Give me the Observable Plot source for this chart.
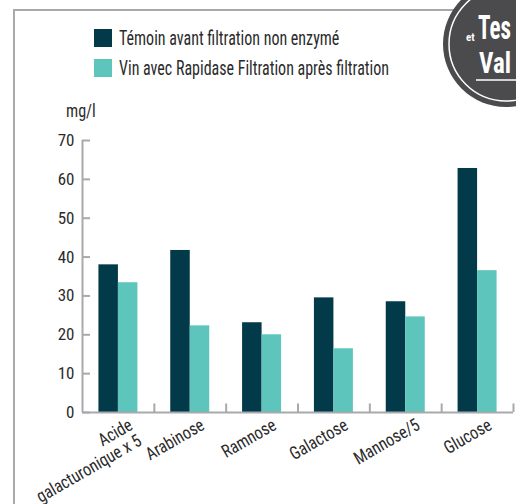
<!DOCTYPE html>
<html><head><meta charset="utf-8">
<script src="https://cdn.jsdelivr.net/npm/d3@7"></script>
<script src="https://cdn.jsdelivr.net/npm/@observablehq/plot@0.6"></script>
<style>
body{margin:0;background:#fff;}
#wrap{position:relative;width:516px;height:504px;overflow:hidden;font-family:"Roboto Condensed",Roboto,sans-serif;font-stretch:condensed;color:#2b2b2b;}
#frame{position:absolute;left:13px;top:9px;width:480px;height:520px;border-left:2px solid #a9a9a9;border-top:2px solid #a9a9a9;}
#chart{position:absolute;left:0;top:0;}
.leg{position:absolute;left:94px;height:18px;display:flex;align-items:center;white-space:nowrap;}
.sw{width:18px;height:18px;flex:none;}
.lt{margin-left:7px;font-size:20px;transform:scaleX(0.8);transform-origin:left center;}
#unit{position:absolute;left:66px;top:99px;font-size:19px;transform:scaleX(0.85);transform-origin:left center;}
#badge{position:absolute;left:436px;top:0;}
</style></head><body>
<div id="wrap">
<div id="frame"></div>
<div id="chart"></div>
<div id="legend"></div>
<div id="unit"></div>
<svg id="badge" width="80" height="120" viewBox="436 0 80 120">
<circle cx="506" cy="44" r="63" fill="#4b4b4d"/>
<circle cx="506" cy="44" r="57" fill="none" stroke="#fff" stroke-width="1.5"/>
<text x="466" y="41" fill="#fff" font-size="11" font-weight="bold" font-family="Roboto Condensed, sans-serif">et</text>
<text x="478" y="39" fill="#fff" font-size="34" font-weight="bold" font-family="Roboto Condensed, sans-serif" textLength="33" lengthAdjust="spacingAndGlyphs">Tes</text>
<text x="479" y="73" fill="#fff" font-size="30" font-weight="bold" font-family="Roboto Condensed, sans-serif" textLength="32" lengthAdjust="spacingAndGlyphs">Val</text>
<line x1="476" y1="80" x2="516" y2="80" stroke="#fff" stroke-width="1.5"/>
</svg>
</div>
<script>
const categories = ["Acide\ngalacturonique x 5", "Arabinose", "Ramnose", "Galactose", "Mannose/5", "Glucose"];
const series = ["Témoin avant filtration non enzymé", "Vin avec Rapidase Filtration après filtration"];
const temoinValues = [38.0, 41.7, 23.1, 29.5, 28.5, 62.8];
const rapidaseValues = [33.4, 22.3, 20.0, 16.4, 24.6, 36.5];
const yTicks = [0, 10, 20, 30, 40, 50, 60, 70];
const seriesColors = ["#033a4a", "#5ec5bc"];
const unitLabel = "mg/l";

const W = 516, H = 504, ML = 82, MR = 3, MT = 140, MB = 92;
const bw = (W - ML - MR) / categories.length;
const barW = 19.5;
const axisGrey = "#a7a9ac";

const rows = categories.flatMap((c, i) => [
  {cat: c, s: series[0], v: temoinValues[i]},
  {cat: c, s: series[1], v: rapidaseValues[i]}
]);

const chart = Plot.plot({
  width: W, height: H,
  marginLeft: ML, marginRight: MR, marginTop: MT, marginBottom: MB,
  style: {fontFamily: '"Roboto Condensed",Roboto,sans-serif', fontSize: "17px", color: "#2b2b2b", background: "transparent", overflow: "visible"},
  x: {domain: categories, padding: 0, round: false},
  y: {domain: [0, 70]},
  color: {domain: series, range: seriesColors},
  marks: [
    Plot.barY(rows.filter(d => d.s === series[0]), {x: "cat", y: "v", fill: "s", insetLeft: bw / 2 - barW, insetRight: bw / 2}),
    Plot.barY(rows.filter(d => d.s === series[1]), {x: "cat", y: "v", fill: "s", insetLeft: bw / 2, insetRight: bw / 2 - barW}),
    Plot.axisY({ticks: yTicks, tickSize: 0, tickPadding: 8, label: null}),
    Plot.tickY(yTicks, {y: d => d, x: () => categories[0], insetRight: bw - 8, stroke: axisGrey, strokeWidth: 2}),
    Plot.axisX({tickSize: 0, tickPadding: 5, tickRotate: -30, lineAnchor: "top", dx: 9, fontSize: 18, label: null}),
    Plot.ruleY([0], {stroke: axisGrey, strokeWidth: 2}),
    Plot.ruleX([categories[0]], {x: d => d, y1: 0, y2: 70, dx: -bw / 2, stroke: axisGrey, strokeWidth: 2}),
    Plot.ruleX(categories, {x: d => d, y1: 0, y2: 2.2, dx: bw / 2, stroke: axisGrey, strokeWidth: 2})
  ]
});
// condense the x tick labels slightly along their baseline
chart.querySelectorAll('g[aria-label="x-axis tick label"] text').forEach(t => {
  const tr = t.getAttribute("transform") || "";
  t.setAttribute("transform", tr + " scale(0.9,1)");
});
document.getElementById("chart").appendChild(chart);

const legend = document.getElementById("legend");
series.forEach((s, i) => {
  const row = document.createElement("div");
  row.className = "leg";
  row.style.top = (29 + i * 30) + "px";
  const sw = document.createElement("div");
  sw.className = "sw";
  sw.style.background = seriesColors[i];
  const t = document.createElement("span");
  t.className = "lt";
  t.textContent = s;
  row.appendChild(sw); row.appendChild(t);
  legend.appendChild(row);
});
document.getElementById("unit").textContent = unitLabel;
</script>
</body></html>
